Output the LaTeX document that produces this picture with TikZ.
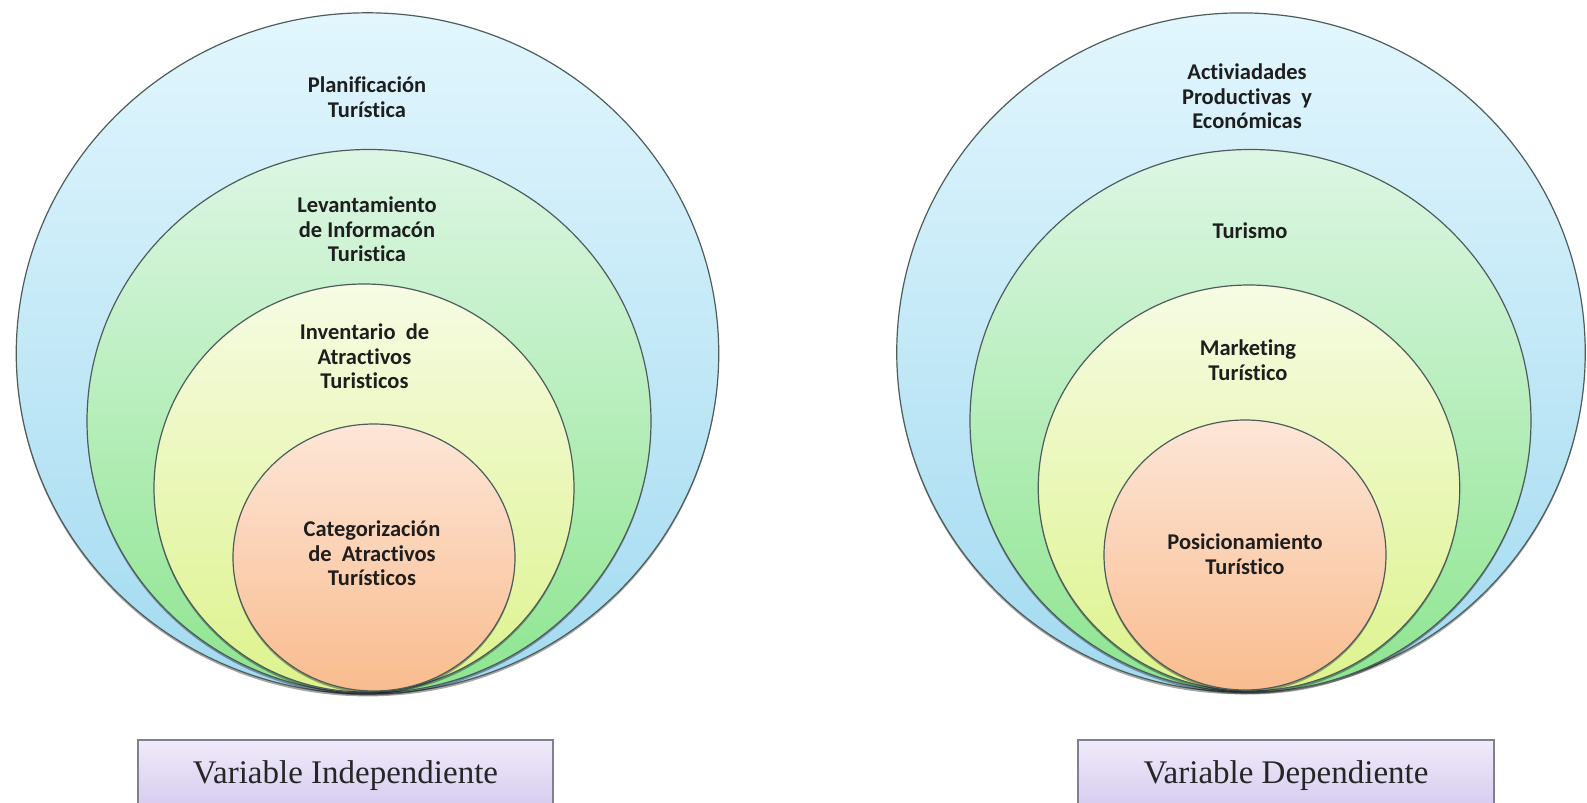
\documentclass[tikz,border=0pt]{standalone}
\usepackage{fontspec}
\setmainfont{Carlito}[Ligatures={NoCommon}]
\newfontfamily\boxfont{Liberation Serif}
\usetikzlibrary{shapes.geometric,shadows}
\definecolor{bluetop}{HTML}{E2F6FD}
\definecolor{bluebot}{HTML}{A2DAF0}
\definecolor{greentop}{HTML}{DDF6E4}
\definecolor{greenbot}{HTML}{8DE58F}
\definecolor{yeltop}{HTML}{F6FBE3}
\definecolor{yelbot}{HTML}{DDF38C}
\definecolor{ortop}{HTML}{FDE6D8}
\definecolor{orbot}{HTML}{F9BC8E}
\definecolor{boxtop}{HTML}{F0EBFA}
\definecolor{boxbot}{HTML}{CFC1EC}
\definecolor{rimcol}{HTML}{4E5C5C}
\definecolor{boxrim}{HTML}{80808F}
\definecolor{txtcol}{HTML}{1E1E1E}
\tikzset{
  ring/.style={ellipse, draw=rimcol, line width=0.6pt, inner sep=0pt, outer sep=0pt,
    drop shadow={shadow xshift=0pt, shadow yshift=-1.2pt, opacity=0.35, fill=black}},
  blue ring/.style={ring, top color=bluetop, bottom color=bluebot},
  green ring/.style={ring, top color=greentop, bottom color=greenbot},
  yellow ring/.style={ring, top color=yeltop, bottom color=yelbot},
  orange ring/.style={ring, top color=ortop, bottom color=orbot},
  lbl/.style={align=center, text=txtcol, inner sep=0pt,
    font=\fontsize{11.25}{12.25}\selectfont\bfseries},
  varbox/.style={draw=boxrim, line width=0.6pt, top color=boxtop, bottom color=boxbot},
  vartext/.style={text=black!85, inner sep=0pt, font=\boxfont\fontsize{16.5}{18}\selectfont}
}
\begin{document}
\begin{tikzpicture}[x=0.5pt,y=-0.5pt]
\useasboundingbox (0,0) rectangle (1587,803);
\clip (0,0) rectangle (1587,803);
\fill[white] (0,0) rectangle (1587,803);
% left diagram
\node[blue ring, minimum width=351.25pt, minimum height=340.6pt] (L1) at (367.5,353.4) {};
\node[green ring, minimum width=282pt, minimum height=271.75pt] (L2) at (369,421.25) {};
\node[yellow ring, minimum width=210pt, minimum height=204pt] (L3) at (364,488) {};
\node[orange ring, minimum width=141pt, minimum height=133.5pt] (L4) at (374,557.5) {};
\node[lbl] (tL1) at (367,97) {Planificación\\Turística};
\node[lbl] (tL2) at (367,229.5) {Levantamiento\\de Informacón\\Turistica};
\node[lbl] (tL3) at (364.5,356.5) {Inventario\ \ de\\Atractivos\\Turisticos};
\node[lbl] (tL4) at (372,553.5) {Categorización\\de\ \ Atractivos\\Turísticos};
% right diagram
\node[blue ring, minimum width=344.25pt, minimum height=339.5pt] (R1) at (1241,352.4) {};
\node[green ring, minimum width=280.5pt, minimum height=271.25pt] (R2) at (1250.5,420.75) {};
\node[yellow ring, minimum width=210.75pt, minimum height=203pt] (R3) at (1249,488) {};
\node[orange ring, minimum width=141pt, minimum height=135pt] (R4) at (1245,555) {};
\node[lbl] (tR1) at (1247,96.5) {Activiadades\\Productivas\ \ y\\Económicas};
\node[lbl] (tR2) at (1250,231) {Turismo};
\node[lbl] (tR3) at (1248,360) {Marketing\\Turístico};
\node[lbl] (tR4) at (1245,554) {Posicionamiento\\Turístico};
% boxes
\path[varbox] (138,740) rectangle (553,830);
\node[vartext] (bL) at (345.5,776) {Variable Independiente};
\path[varbox] (1078,740) rectangle (1494,830);
\node[vartext] (bR) at (1286,776) {Variable Dependiente};
\end{tikzpicture}
\end{document}
